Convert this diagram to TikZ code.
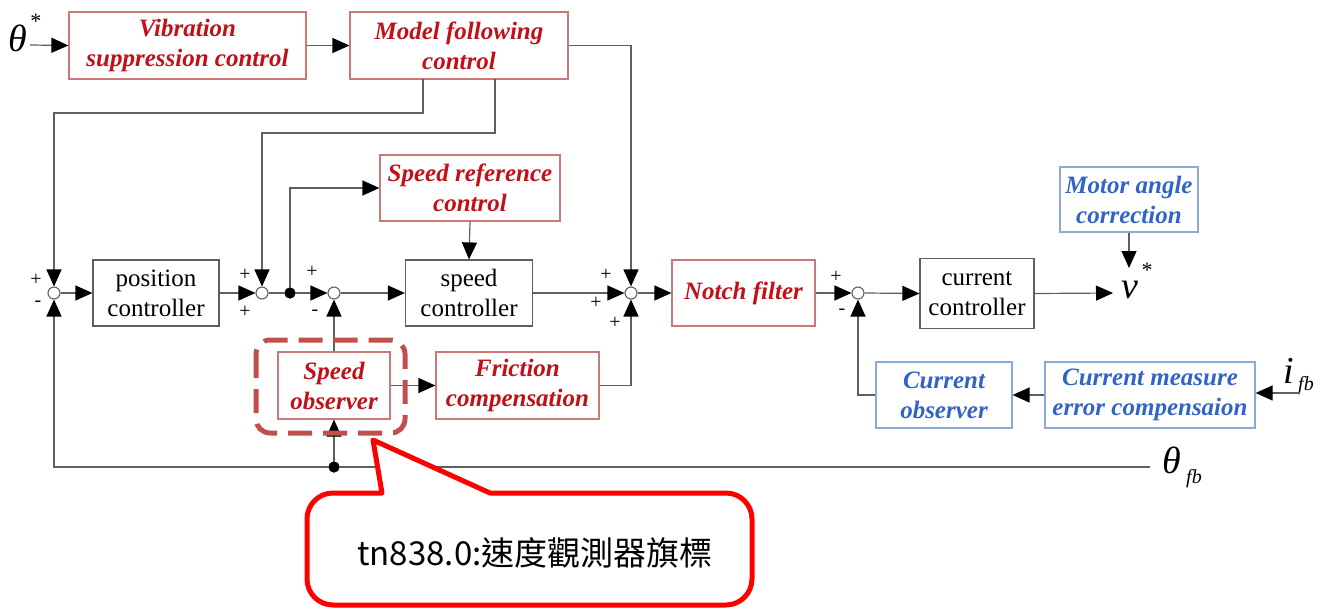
\documentclass[tikz,border=0pt]{standalone}
\usepackage{fontspec}
\setmainfont{Liberation Serif}
\newfontfamily\cjk{Noto Sans CJK TC}
\usetikzlibrary{arrows.meta,calc}
\definecolor{redtxt}{RGB}{192,16,24}
\definecolor{redbox}{RGB}{205,120,120}
\definecolor{bluetxt}{RGB}{50,100,200}
\definecolor{bluebox}{RGB}{140,170,215}
\definecolor{linecol}{RGB}{95,95,95}
\definecolor{dashcol}{RGB}{192,80,77}
\definecolor{callred}{RGB}{255,0,0}
\tikzset{
  blk/.style={draw=linecol, line width=1.2pt, align=center, inner sep=0pt, text=black,
    font=\fontsize{25}{30}\selectfont},
  redblk/.style={blk, draw=redbox, text=redtxt, font=\fontsize{25}{30}\selectfont\bfseries\itshape},
  blueblk/.style={blk, draw=bluebox, text=bluetxt, font=\fontsize{25}{30}\selectfont\bfseries\itshape},
  summer/.style={circle, draw=linecol, line width=1.1pt, fill=white, minimum size=12pt, inner sep=0pt},
  jdot/.style={circle, fill=black, minimum size=11pt, inner sep=0pt},
  wire/.style={draw=linecol, line width=1.2pt},
  arr/.style={wire, -{Triangle[length=17pt,width=15pt,color=black,fill=black]}},
  sgn/.style={font=\fontsize{20}{20}\selectfont, inner sep=0pt, text=black},
  bigsym/.style={font=\fontsize{38}{38}\selectfont\itshape, inner sep=0pt},
  smallsym/.style={font=\fontsize{20}{20}\selectfont\itshape, inner sep=0pt},
}
\begin{document}
\begin{tikzpicture}[x=1pt,y=-1pt]
\useasboundingbox (0,0) rectangle (1323,608);
% blocks
\node[redblk, minimum width=237pt, minimum height=67pt] (vsc) at (187.5,45.5) {Vibration\\suppression control};
\node[redblk, minimum width=218pt, minimum height=67pt] (mfc) at (459,45.5) {Model following\\control};
\node[redblk, minimum width=180pt, minimum height=66pt] (src) at (470,188) {Speed reference\\control};
\node[blk, minimum width=126pt, minimum height=66pt] (pc) at (156,293) {position\\controller};
\node[blk, minimum width=127pt, minimum height=66pt] (sc) at (469,293) {speed\\controller};
\node[redblk, minimum width=143pt, minimum height=66pt] (nf) at (743.5,293) {Notch filter};
\node[blk, minimum width=114pt, minimum height=70pt] (cc) at (977,293.5) {current\\controller};
\node[blueblk, minimum width=138pt, minimum height=65pt] (mac) at (1129,199.5) {Motor angle\\correction};
\node[redblk, minimum width=112pt, minimum height=67pt] (so) at (334,385.5) {Speed\\observer};
\node[redblk, minimum width=163pt, minimum height=67pt] (fc) at (517.5,385.5) {Friction\\compensation};
\node[blueblk, minimum width=136pt, minimum height=66pt] (co) at (944,395) {Current\\observer};
\node[blueblk, minimum width=210pt, minimum height=66pt] (cmec) at (1150,395) {Current measure\\error compensaion};
% summing junctions and dots
\node[summer] (s1) at (54,293) {};
\node[summer] (s2) at (262,293) {};
\node[summer] (s3) at (334,293) {};
\node[summer] (s4) at (631,293) {};
\node[summer] (s5) at (858,293) {};
\node[jdot] (d1) at (290,293) {};
\node[jdot] (d2) at (334,467) {};
% signs
\node[sgn] (p1a) at (36,280) {+};
\node[sgn] (p1b) at (38,304) {-};
\node[sgn] (p2a) at (245,275) {+};
\node[sgn] (p2b) at (245,312) {+};
\node[sgn] (p3a) at (312,272) {+};
\node[sgn] (p3b) at (315,313) {-};
\node[sgn] (p4a) at (606,275) {+};
\node[sgn] (p4b) at (596,303) {+};
\node[sgn] (p4c) at (615,323) {+};
\node[sgn] (p5a) at (836,277) {+};
\node[sgn] (p5b) at (842,312) {-};
% signals
\node[bigsym] (thref) at (18,38) {θ};
\node[smallsym, font=\fontsize{22}{22}\selectfont] (thrs) at (36,21) {*};
\node[bigsym] (vout) at (1130,290) {v};
\node[smallsym, font=\fontsize{22}{22}\selectfont] (vs) at (1147,270) {*};
\node[bigsym] (ifb) at (1289,371) {i};
\node[smallsym] (ifbs) at (1306,386) {fb};
\node[bigsym] (thfb) at (1172,460) {θ};
\node[smallsym] (thfbs) at (1194,479) {fb};
\coordinate (thin) at (30,45);
\coordinate (vend) at (1113,293);
\coordinate (macend) at (1129,268);
\coordinate (ifbin) at (1300,393);
\coordinate (fbend) at (1150,467);
\coordinate (m1) at (423,79);
\coordinate (m2) at (495,79);
% connectors
\draw[arr] (thin) -- (vsc.west);
\draw[arr] (vsc.east) -- (mfc.west);
\draw[arr] (mfc.east) -| (s4.north);
\draw[arr] (m1) -- (423,113) -| (s1.north);
\draw[arr] (m2) -- (495,133) -| (s2.north);
\draw[arr] (s1.east) -- (pc.west);
\draw[arr] (pc.east) -- (s2.west);
\draw[wire] (s2.east) -- (d1.center);
\draw[arr] (d1.center) -- (s3.west);
\draw[arr] (d1.center) |- (src.west);
\draw[arr] (s3.east) -- (sc.west);
\draw[arr] (src.south) -- (sc.north);
\draw[arr] (sc.east) -- (s4.west);
\draw[arr] (s4.east) -- (nf.west);
\draw[arr] (nf.east) -- (s5.west);
\draw[arr] (s5.east) -- (cc.west);
\draw[arr] (cc.east) -- (vend);
\draw[arr] (mac.south) -- (macend);
\draw[arr] (ifbin) -- (ifbin -| cmec.east);
\draw[arr] (cmec.west) -- (co.east);
\draw[arr] (co.west) -| (s5.south);
\draw[arr] (so.north) -- (s3.south);
\draw[arr] (so.east) -- (so.east -| fc.west);
\draw[arr] (fc.east) -| (s4.south);
\draw[arr] (fbend) -| (s1.south);
\draw[arr] (d2.center) -- (so.south);
\node[jdot] at (d1) {};
\node[jdot] at (d2) {};
% highlight
\draw[dashcol, line width=5pt, dash pattern=on 24pt off 11pt, rounded corners=14pt] (256,340) rectangle (405,433);
% callout
\draw[callred, line width=5pt, fill=white, line join=round]
  (382,493) -- (373,440) -- (490,493) [rounded corners=26pt] -- (752,493) -- (752,605) -- (307,605) -- (307,493) [sharp corners] -- cycle;
\node[font=\cjk\fontsize{33}{33}\selectfont, inner sep=0pt] (ctext) at (535,553) {tn838.0:速度觀測器旗標};
\end{tikzpicture}
\end{document}
